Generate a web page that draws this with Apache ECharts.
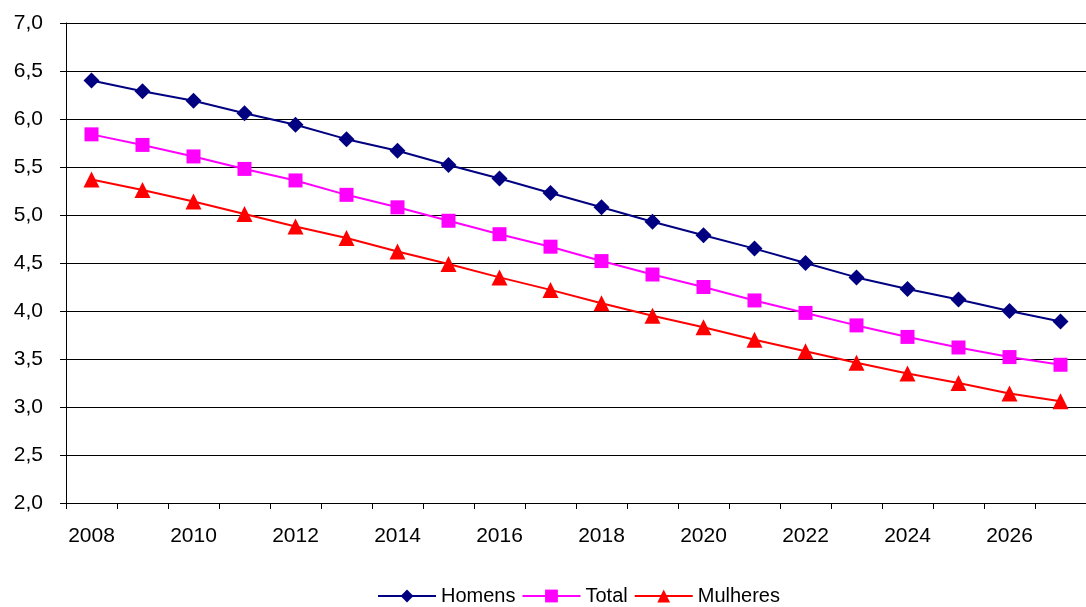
<!DOCTYPE html>
<html><head><meta charset="utf-8">
<script src="https://cdn.jsdelivr.net/npm/echarts@6/dist/echarts.min.js"></script>
<style>html,body{margin:0;padding:0;background:#fff}#c{width:1086px;height:607px}</style>
</head><body><div id="c"></div>
<script>
const years = ['2008','2009','2010','2011','2012','2013','2014','2015','2016','2017','2018','2019','2020','2021','2022','2023','2024','2025','2026','2027'];
const homens = [6.40,6.29,6.19,6.06,5.94,5.79,5.67,5.52,5.38,5.23,5.08,4.93,4.79,4.65,4.50,4.35,4.23,4.12,4.00,3.89];
const total = [5.84,5.73,5.61,5.48,5.36,5.21,5.08,4.94,4.80,4.67,4.52,4.38,4.25,4.11,3.98,3.85,3.73,3.62,3.52,3.44];
const mulheres = [5.37,5.26,5.14,5.01,4.88,4.76,4.62,4.49,4.35,4.22,4.08,3.95,3.83,3.70,3.58,3.46,3.35,3.25,3.14,3.06];

const chart = echarts.init(document.getElementById('c'));
const font = 'Liberation Sans, Arial, sans-serif';
function ser(name, data, color, symbol, size) {
  return {name, type:'line', data, symbol, symbolSize:size, showSymbol:true,
    lineStyle:{color, width:2}, itemStyle:{color}, animation:false};
}
chart.setOption({
  animation:false,
  textStyle:{fontFamily:font},
  grid:{left:66, top:23, right:-7, bottom:104},
  legend:{bottom:-4, left:372, itemWidth:58, itemHeight:16, itemGap:6,
    textStyle:{fontSize:20, color:'#000', fontFamily:font},
    data:['Homens','Total','Mulheres']},
  xAxis:{type:'category', data:years, boundaryGap:true,
    axisLine:{lineStyle:{color:'#000', width:1}},
    axisTick:{show:true, interval:0, length:6, lineStyle:{color:'#000'}},
    axisLabel:{interval:1, fontSize:21, color:'#000', margin:23, fontFamily:font},
    splitLine:{show:false}},
  yAxis:{type:'value', min:2, max:7, interval:0.5,
    axisLine:{show:true, lineStyle:{color:'#000', width:1}},
    axisTick:{show:true, length:6, lineStyle:{color:'#000'}},
    axisLabel:{fontSize:21, color:'#000', margin:23, fontFamily:font,
      formatter:v=>v.toFixed(1).replace('.',',')},
    splitLine:{show:true, lineStyle:{color:'#000', width:1}}},
  series:[
    ser('Homens', homens, '#000080', 'diamond', 16),
    ser('Total', total, '#FF00FF', 'rect', 14),
    ser('Mulheres', mulheres, '#FF0000', 'triangle', 16)
  ]
});
</script></body></html>
